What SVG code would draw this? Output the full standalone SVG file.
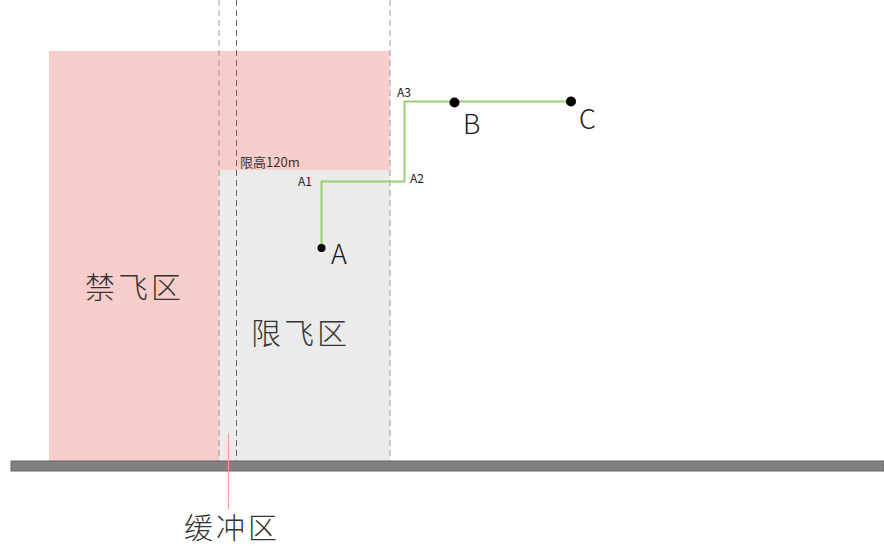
<svg xmlns="http://www.w3.org/2000/svg" width="884" height="549" viewBox="0 0 884 549">
<style>
text{font-family:"Noto Sans CJK SC","Liberation Sans",sans-serif;fill:#1a1a1a}
.s{font-size:12px}
.big{font-size:30px;fill:#333;font-weight:300;letter-spacing:3px}
.pt{font-size:27px;font-weight:300}
.dl{stroke:#999;stroke-width:1;stroke-dasharray:6 4;fill:none}
.dd{stroke:#666;stroke-width:1;stroke-dasharray:6 4;fill:none}
.dot{fill:#000}
</style>
<rect width="884" height="549" fill="#fff"/>
<g id="no-fly">
<path d="M49 51H390V170H219V461H49Z" fill="#f8cecc"/>
<text class="big" x="85" y="298">禁飞区</text>
</g>
<g id="restricted">
<rect x="219" y="170" width="171" height="291" fill="#ebebeb"/>
<text class="big" x="251" y="344">限飞区</text>
<text x="240" y="167" style="font-size:13px;fill:#333">限高120m</text>
</g>
<g id="boundaries">
<line class="dl" x1="219" y1="0" x2="219" y2="461"/>
<line class="dd" x1="236.5" y1="0" x2="236.5" y2="461"/>
<line class="dl" x1="390" y1="0" x2="390" y2="461"/>
</g>
<g id="ground">
<rect x="11" y="461" width="873" height="10" fill="#808080" stroke="#666" stroke-width="1"/>
</g>
<g id="buffer">
<line x1="228.5" y1="433" x2="228.5" y2="510" stroke="#f19c99" stroke-width="1"/>
<text class="big" x="184" y="539" style="font-size:29px;letter-spacing:3px">缓冲区</text>
</g>
<g id="connectors">
<path d="M321.5 248V181.5H404.5V101.5H571" fill="none" stroke="#97d077" stroke-width="2"/>
</g>
<g id="A">
<circle class="dot" cx="321.5" cy="248" r="4"/>
<text class="pt" x="331" y="264">A</text>
</g>
<g id="B">
<circle class="dot" cx="454.5" cy="102.5" r="5"/>
<text class="pt" x="463" y="134">B</text>
</g>
<g id="C">
<circle class="dot" cx="571" cy="101.5" r="5"/>
<text class="pt" x="579" y="129">C</text>
</g>
<g id="labels">
<text class="s" x="298" y="186">A1</text>
<text class="s" x="410" y="183">A2</text>
<text class="s" x="397" y="97">A3</text>
</g>
</svg>
